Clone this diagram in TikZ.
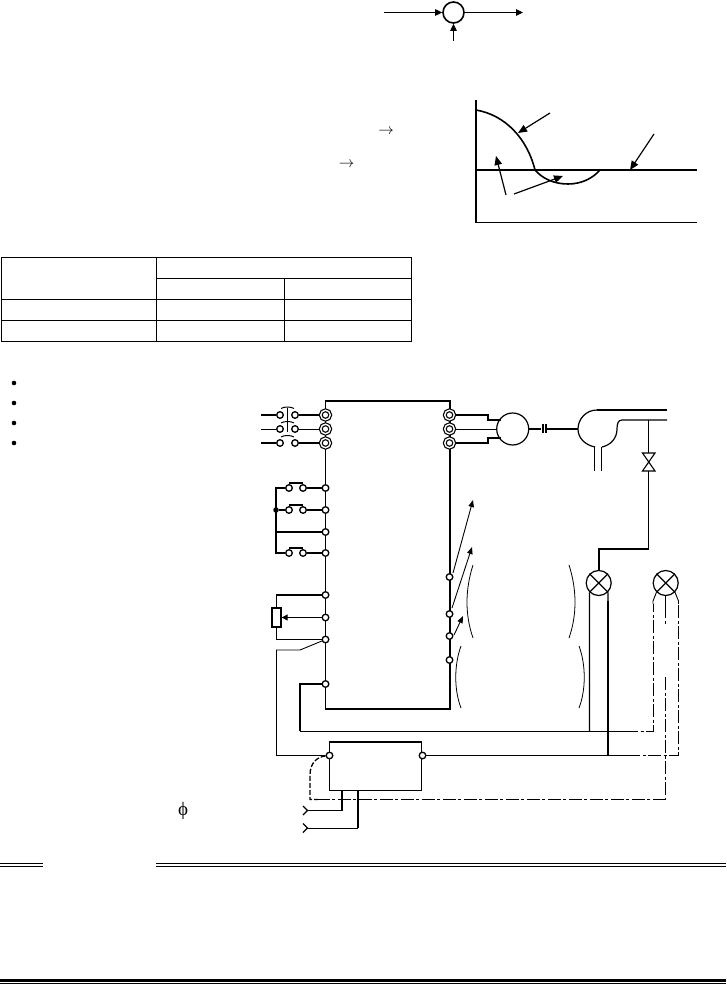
\documentclass[tikz,border=0pt]{standalone}
\usepackage{fontspec}
\newfontfamily\phifont{Liberation Serif}
\usetikzlibrary{arrows.meta}
\tikzset{
  thinw/.style={line width=0.9pt},
  thickw/.style={line width=1.6pt},
  tip/.style={-{Triangle[length=7pt,width=6.5pt]}},
  term/.style={circle,draw,fill=white,inner sep=0pt,minimum size=6.6pt,line width=1.3pt},
  dterm/.style={circle,draw,fill=white,inner sep=0pt,minimum size=9.5pt,line width=1.2pt,double,double distance=1.4pt},
  dot/.style={circle,fill=black,inner sep=0pt,minimum size=#1},
  boxw/.style={draw,line width=1.3pt,inner sep=0pt},
  dashdot/.style={dash pattern=on 13pt off 2.5pt on 3pt off 2.5pt},
  lampnode/.style={circle,draw,line width=1.2pt,inner sep=0pt,minimum size=25pt},
}
\begin{document}
\begin{tikzpicture}[x=1pt,y=-1pt,line cap=butt]
\useasboundingbox (0,0) rectangle (726,984);
% summing point
\node[circle,draw,line width=1.6pt,inner sep=0pt,minimum size=21pt] (sum) at (453.5,12.5) {};
\coordinate (sumin) at (384,12.5);
\coordinate (sumout) at (523,12.5);
\coordinate (sumfb) at (453.5,41);
\draw[thinw,tip] (sumin) -- (sum);
\draw[thinw,tip] (sum) -- (sumout);
\draw[thinw,tip] (sumfb) -- (sum);
% text arrows
\node[inner sep=0pt,scale=1.55] (ta1) at (386,131.5) {$\rightarrow$};
\node[inner sep=0pt,scale=1.55] (ta2) at (346.5,164.5) {$\rightarrow$};
\node[inner sep=0pt] (tphi) at (183,811) {\fontsize{19}{19}\selectfont\phifont ϕ};
% chart
\draw[line width=1.6pt] (476,100) -- (476,223);
\draw[line width=1pt] (476,223) -- (697,223);
\draw[line width=1.7pt] (476,170) -- (697,170);
\draw[line width=1.6pt] (476,110) .. controls (505,115) and (527,138) .. (535,170)
   .. controls (542,178) and (553,184) .. (568,184) .. controls (582,184) and (593,178) .. (600,170);
\coordinate (ca1) at (550,113); \coordinate (ca1e) at (518,133);
\coordinate (ca2) at (654,134); \coordinate (ca2e) at (630,170);
\coordinate (ca3) at (506,195); \coordinate (ca3e) at (496,156);
\coordinate (ca4) at (514,194); \coordinate (ca4e) at (563,176);
\foreach \a/\b in {ca1/ca1e,ca2/ca2e,ca3/ca3e,ca4/ca4e}
  \draw[line width=1.2pt,-{Triangle[length=9pt,width=7.5pt]}] (\a) -- (\b);
% table
\draw[line width=1pt] (1,257) rectangle (411,341);
\draw[line width=1pt] (156.5,257) -- (156.5,341);
\draw[line width=1pt] (284.5,278) -- (284.5,341);
\draw[line width=1pt] (156.5,278) -- (411,278);
\draw[line width=1pt] (1,299.5) -- (411,299.5);
\draw[line width=1pt] (1,320.5) -- (411,320.5);
% bullets
\foreach \n/\y in {1/383,2/403,3/423,4/443}
  \node[dot=4.6pt] (bul\n) at (14,\y) {};
% inverter box
\node[boxw,minimum width=124.5pt,minimum height=308pt] (inv) at (387.75,555) {};
% power terminals
\foreach \n/\y in {1/415,2/429,3/443}{
  \node[dterm] (L\n) at (325.5,\y) {};
  \node[dterm] (U\n) at (449.5,\y) {};
  \node[term] (ma\n) at (280,\y) {};
  \node[term] (mb\n) at (295,\y) {};
  \coordinate (src\n) at (261,\y);
}
\draw[thickw] (src1) -- (ma1); \draw[thickw] (mb1) -- (L1);
\draw[thinw] (src2) -- (ma2); \draw[thinw] (mb2) -- (L2);
\draw[thickw] (src3) -- (ma3); \draw[thickw] (mb3) -- (L3);
\draw[line width=1.6pt] (287.5,408) -- (287.5,432);
\draw[line width=1pt] (281,408.5) .. controls (284,406.5) and (291,406.5) .. (294,408.5);
\draw[line width=1pt] (281,423) .. controls (284,421) and (291,421) .. (294,423);
\draw[line width=1pt] (281,437) .. controls (284,435) and (291,435) .. (294,437);
% control terminals left
\foreach \n/\y in {a/488,b/510,c/532,d/553,e/595,f/617.5,g/639.5,h/684}
  \node[term] (T\n) at (325.5,\y) {};
% push buttons
\coordinate (bus) at (276,488);
\coordinate (busd) at (276,553);
\node[dot=5.5pt] (busdot) at (276,510) {};
\foreach \n/\y in {a/488,b/510,d/553}{
  \node[term] (pa\n) at (289,\y) {};
  \node[term] (pb\n) at (303,\y) {};
  \draw[line width=1.2pt] (289,\y-5) -- (303,\y-5);
  \draw[thickw] (pb\n) -- (T\n);
}
\draw[thickw] (pad) -- (busd) -- (bus) -- (paa);
\draw[thickw] (busdot) -- (pab);
\draw[thickw] (Tc) -- (276,532);
% potentiometer
\node[boxw,minimum width=9pt,minimum height=19pt] (pot) at (276.5,617.5) {};
\draw[thickw] (Te) -| (pot.north);
\draw[thickw] (Tg) -| (pot.south);
\draw[thinw,-{Triangle[length=6pt,width=6pt]}] (Tf) -- (pot.east);
% right control terminals
\foreach \n/\y in {a/577,b/614,c/636,d/660}
  \node[term] (R\n) at (449.5,\y) {};
\coordinate (ra1) at (473,500); \coordinate (rs1) at (453,573);
\coordinate (ra2) at (472,547); \coordinate (rs2) at (452,608);
\coordinate (ra3) at (463,616); \coordinate (rs3) at (454,635);
\foreach \a/\b in {rs1/ra1,rs2/ra2,rs3/ra3}
  \draw[thinw,-{Triangle[length=7pt,width=5.5pt]}] (\a) -- (\b);
% braces
\draw[line width=0.8pt] (473,565) .. controls (465,590) and (465,615) .. (473,638);
\draw[line width=0.8pt] (461,646) .. controls (454,665) and (454,690) .. (461,708);
\draw[line width=0.8pt] (569,565) .. controls (577,590) and (577,615) .. (569,638);
\draw[line width=0.8pt] (579,646) .. controls (586,665) and (586,690) .. (579,708);
% motor
\node[circle,draw,line width=1.2pt,inner sep=0pt,minimum size=32pt] (mot) at (512.7,429) {};
\draw[line width=1.3pt] (U1) -- (488,415) -- (488,420) -- (mot.north west |- 0,420);
\draw[thinw] (U2) -- (mot);
\draw[line width=1.3pt] (U3) -- (488,443) -- (488,438) -- (mot.south west |- 0,438);
% coupling
\draw[line width=1.2pt] (mot) ++(16,0) -- (541,429);
\draw[line width=1.2pt] (543,424) -- (543,433);
\draw[line width=1.6pt] (546,424) -- (546,433);
\draw[line width=1.6pt] (546,429) -- (578,429);
% blower
\draw[line width=1.7pt] (667,410) -- (597,410);
\draw[line width=1.2pt] (597,410) .. controls (586,410) and (578,419) .. (578,429)
   .. controls (578,438) and (585,445) .. (595,447);
\draw[line width=1.2pt] (602,447) .. controls (611,445) and (617,438) .. (617,429)
   .. controls (617,424) and (618,420) .. (622,420) -- (667,420);
\draw[thinw] (594.7,447) -- (594.7,471);
\draw[thinw] (601.7,447) -- (601.7,471);
% valve
\draw[line width=1.1pt] (642.5,453) -- (655,453) -- (642.5,471) -- (655,471) -- cycle;
\draw[line width=1.1pt] (648.7,420) -- (648.7,453);
\draw[line width=1.1pt] (648.7,471) -- (648.7,549);
\draw[line width=1.9pt] (649,549) -- (598.7,549) -- (598.7,571);
% lamps
\foreach \n/\x in {A/598.7,B/665.7}{
  \node[lampnode] (\n) at (\x,583) {};
  \draw[line width=1.2pt] (\n.north west) -- (\n.south east);
  \draw[line width=1.2pt] (\n.north east) -- (\n.south west);
}
% control box
\node[boxw,line width=1.5pt,minimum width=92pt,minimum height=48.7pt] (ctl) at (375.5,766.3) {};
\node[term] (c1) at (329.5,755.5) {};
\node[term] (c2) at (422.5,755.5) {};
% thin return
\draw[thinw] (Tg) -- (300,650) -- (276.5,650) -- (276.5,755.5) -- (c1);
% line from bottom terminal
\coordinate (n731a) at (589.5,731);
\coordinate (n731b) at (625,731);
\coordinate (n755) at (608,755.5);
\draw[thickw] (Th) -- (300,684) -- (300,731);
\draw[thinw] (300,731) -- (n731b);
\draw[thinw,dashdot] (n731b) -- (653,731) -- (653,604);
\draw[thinw] (653,604) -- (653,601) -- (B.south west);
\draw[line width=1.1pt] (n731a) -- (589.5,601) -- (A.south west);
\draw[line width=1.8pt] (n755) -- (608,601);
\draw[line width=1.2pt] (608,601) -- (A.south east);
\draw[thinw] (c2) -- (627,755.5);
\draw[thinw,dashdot] (627,755.5) -- (678.5,755.5) -- (678.5,604);
\draw[thinw] (678.5,604) -- (678.5,601) -- (B.south east);
\draw[thinw] (B.south) -- (665.7,605);
\draw[thinw,dashdot] (665.7,605) -- (665.7,625);
\draw[thinw,dashdot] (665.7,677) -- (665.7,799.5);
% dashed aux return
\draw[thinw,dashdot] (665.7,799.5) -- (318,799.5);
\draw[line width=1.3pt,dash pattern=on 5pt off 2pt] (c1) .. controls (316,757) and (310,764) .. (310,775) -- (310,799.5) -- (318,799.5);
% plugs
\coordinate (p1) at (307,810.5);
\coordinate (p2) at (307,828);
\draw[thickw] (342,791) -- (342,810.5);
\draw[thinw] (342,810.5) -- (p1);
\draw[thickw] (358,791) -- (358,828);
\draw[thinw] (358,828) -- (p2);
\draw[line width=1.1pt] (303,806) -- (307.5,810.5) -- (303,815);
\draw[line width=1.1pt] (303,823.5) -- (307.5,828) -- (303,832.5);
% rules
\draw[line width=1.1pt] (0,863.5) -- (43,863.5) (0,866.5) -- (43,866.5);
\draw[line width=1.1pt] (156,863.5) -- (726,863.5) (156,866.5) -- (726,866.5);
\draw[line width=2.7pt] (0,980.3) -- (726,980.3);
\draw[line width=1.5pt] (0,983.3) -- (726,983.3);
\end{tikzpicture}
\end{document}
